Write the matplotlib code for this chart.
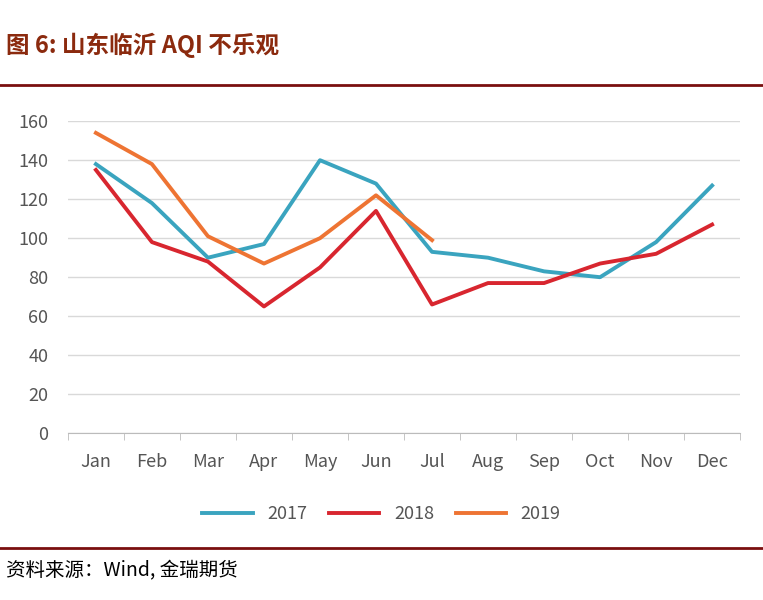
import matplotlib.pyplot as plt
from matplotlib.lines import Line2D

plt.rcParams['font.family'] = ['Noto Sans CJK SC', 'DejaVu Sans']

months = ['Jan', 'Feb', 'Mar', 'Apr', 'May', 'Jun', 'Jul', 'Aug', 'Sep', 'Oct', 'Nov', 'Dec']
aqi_2017 = [138, 118, 90, 97, 140, 128, 93, 90, 83, 80, 98, 127]
aqi_2018 = [135, 98, 88, 65, 85, 114, 66, 77, 77, 87, 92, 107]
aqi_2019 = [154, 138, 101, 87, 100, 122, 99]

fig = plt.figure(figsize=(7.63, 6), dpi=100)
ax = fig.add_axes([0.089, 0.278, 0.881, 0.52])

x = range(len(months))
ax.plot(x, aqi_2017, color='#3AA4BF', lw=2.8, label='2017')
ax.plot(x, aqi_2018, color='#D8262F', lw=2.8, label='2018')
ax.plot(range(len(aqi_2019)), aqi_2019, color='#EE7433', lw=2.8, label='2019')

ax.set_xlim(-0.5, 11.5)
ax.set_ylim(0, 160)
ax.set_yticks(range(0, 161, 20))
ax.set_xticks(list(x))
ax.set_xticklabels(months)
ax.set_xticks([i - 0.5 for i in range(13)], minor=True)
ax.tick_params(axis='x', which='major', length=0, pad=14, labelsize=13, colors='#555555')
ax.tick_params(axis='x', which='minor', length=5, color='#bbbbbb')
ax.tick_params(axis='y', length=0, pad=14, labelsize=13, colors='#555555')
ax.grid(axis='y', color='#d9d9d9', lw=1)
ax.set_axisbelow(True)
for s in ['top', 'right', 'left']:
    ax.spines[s].set_visible(False)
ax.spines['bottom'].set_color('#bbbbbb')

fig.legend(loc='center', bbox_to_anchor=(0.5, 0.143), ncol=3, frameon=False,
           fontsize=13, handlelength=2.8, columnspacing=1.2, labelcolor='#555555')

fig.text(0.008, 0.925, '图 6: 山东临沂 AQI 不乐观', fontsize=17, fontweight='bold',
         color='#8B2A0E', va='center')
fig.add_artist(Line2D([0, 1], [0.858, 0.858], color='#7A0F0F', lw=2))
fig.add_artist(Line2D([0, 1], [0.087, 0.087], color='#7A0F0F', lw=2))
fig.text(0.008, 0.048, '资料来源：Wind, 金瑞期货', fontsize=14, color='black', va='center')

fig.savefig('out.png')
